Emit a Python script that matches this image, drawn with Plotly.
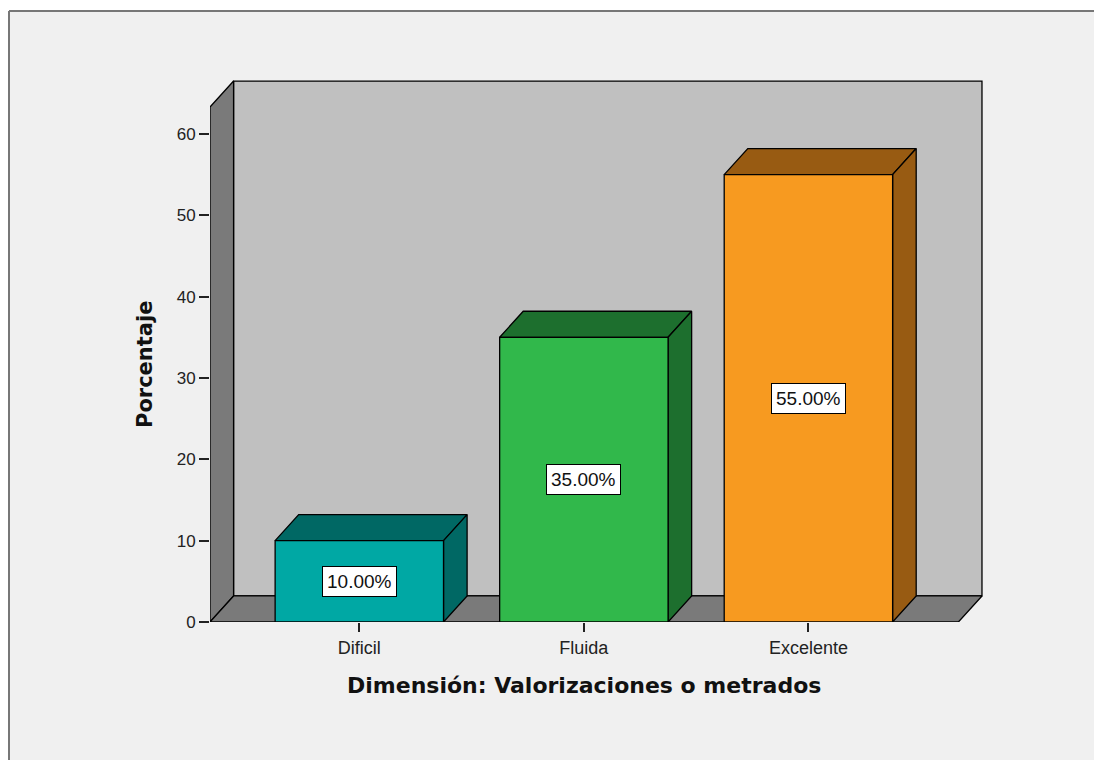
import plotly.graph_objects as go

# datos
categorias = ['Dificil', 'Fluida', 'Excelente']
porcentajes = [10.0, 35.0, 55.0]
colores_frente = ['#00A8A4', '#31B84B', '#F79A20']
colores_lado = ['#006864', '#1D6F2E', '#985B12']
y_ticks = [0, 10, 20, 30, 40, 50, 60]

# geometria del "3D" (en unidades de los ejes)
ancho = 0.75
x_izq, x_der = -0.665, 2.668
y_techo = 63.3
dx, dy = 0.105, 3.2
pad_x, pad_y = 0.009, 0.25

gris_pared = '#C0C0C0'
gris_lado = '#7A7A7A'

fig = go.Figure()


def poligono(xs, ys, color):
    fig.add_trace(go.Scatter(
        x=xs + [xs[0]], y=ys + [ys[0]],
        mode='lines', fill='toself', fillcolor=color,
        line=dict(color='black', width=1.3),
        hoverinfo='skip', showlegend=False,
    ))


# paredes: fondo, lateral izquierda y piso
poligono([x_izq + dx, x_der + dx, x_der + dx, x_izq + dx],
         [dy, dy, y_techo + dy, y_techo + dy], gris_pared)
poligono([x_izq, x_izq + dx, x_izq + dx, x_izq],
         [0, dy, y_techo + dy, y_techo], gris_lado)
poligono([x_izq, x_der, x_der + dx, x_izq + dx],
         [0, 0, dy, dy], gris_lado)

# barras: cara superior, lateral y frente
for i, v in enumerate(porcentajes):
    a, b = i - ancho / 2, i + ancho / 2
    poligono([a, b, b + dx, a + dx], [v, v, v + dy, v + dy], colores_lado[i])
    poligono([b, b + dx, b + dx, b], [0, dy, v + dy, v], colores_lado[i])
    poligono([a, b, b, a], [0, 0, v, v], colores_frente[i])
    fig.add_annotation(
        x=i, y=v / 2, text=f'{v:.2f}%', showarrow=False,
        font=dict(family='Liberation Sans, Arial', size=19, color='#111'),
        bgcolor='white', bordercolor='black', borderwidth=1, borderpad=4,
    )

# marco exterior del grafico (solo bordes superior e izquierdo visibles)
bx0, by1 = (9 - 210) / 774, 1 + (79 - 11) / 543
fig.add_shape(type='rect', xref='paper', yref='paper',
              x0=bx0, x1=2, y0=-1, y1=by1,
              fillcolor='#F0F0F0', line=dict(width=0), layer='below')
fig.add_shape(type='line', xref='paper', yref='paper',
              x0=bx0, x1=2, y0=by1, y1=by1,
              line=dict(color='#777', width=2), layer='below')
fig.add_shape(type='line', xref='paper', yref='paper',
              x0=bx0, x1=bx0, y0=-1, y1=by1,
              line=dict(color='#777', width=2), layer='below')

# titulos
fig.add_annotation(
    xref='paper', yref='paper', x=(584 - 210) / 774, y=-(685 - 622) / 543,
    xanchor='center', yanchor='middle',
    text='<b>Dimensión: Valorizaciones o metrados</b>', showarrow=False,
    font=dict(family='DejaVu Sans', size=22, color='#111'),
)
fig.add_annotation(
    xref='paper', yref='paper', x=-(210 - 145) / 774, y=(622 - 365) / 543,
    xanchor='center', yanchor='middle',
    text='<b>Porcentaje</b>', showarrow=False, textangle=-90,
    font=dict(family='DejaVu Sans', size=21, color='#111'),
)

fig.update_xaxes(
    range=[x_izq, x_der + dx + pad_x],
    tickvals=list(range(len(categorias))), ticktext=categorias,
    ticks='outside', ticklen=9, tickwidth=1.5, tickcolor='#222',
    showgrid=False, zeroline=False, showline=False,
    tickfont=dict(family='Liberation Sans, Arial', size=18, color='#222'),
)
fig.update_yaxes(
    range=[0, y_techo + dy + pad_y],
    tickvals=y_ticks,
    ticks='outside', ticklen=10, tickwidth=1.5, tickcolor='#222',
    showgrid=False, zeroline=False, showline=False,
    tickfont=dict(family='Liberation Sans, Arial', size=17, color='#222'),
)
fig.update_layout(
    width=1094, height=760,
    margin=dict(l=210, r=1094 - 210 - 774, t=79, b=760 - 79 - 543),
    paper_bgcolor='white', plot_bgcolor='rgba(0,0,0,0)',
    showlegend=False, hovermode=False,
)

fig.write_html('out.html', config={'displayModeBar': False},
               post_script="document.body.style.margin='0';"
                           "document.body.style.overflow='hidden';")
